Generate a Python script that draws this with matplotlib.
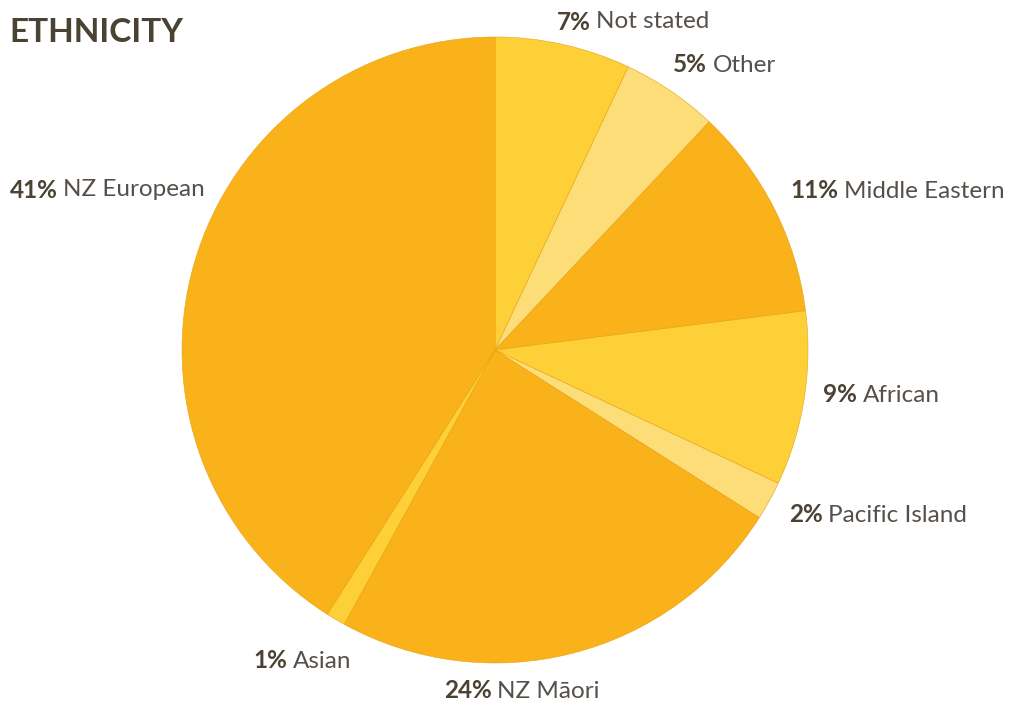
import matplotlib
matplotlib.use('Agg')
import matplotlib.pyplot as plt

# データ
categories = ['Not stated', 'Other', 'Middle Eastern', 'African',
              'Pacific Island', 'NZ Māori', 'Asian', 'NZ European']
percent = [7, 5, 11, 9, 2, 24, 1, 41]

DARK = '#F9B21A'
MID = '#FDD037'
LIGHT = '#FDDD77'
slice_colors = [MID, LIGHT, DARK, MID, LIGHT, DARK, MID, DARK]
TEXT = '#4A4233'

# ラベル位置 (ピクセル, 左端 / 中心y)
label_pos = {
    'Not stated': (557, 22),
    'Other': (673, 65),
    'Middle Eastern': (790, 191),
    'African': (823, 395),
    'Pacific Island': (789, 515),
    'NZ Māori': (444, 691),
    'Asian': (253, 661),
    'NZ European': (10, 190),
}

def main():
    plt.rcParams['font.family'] = ['Lato', 'DejaVu Sans']
    W, H = 1014, 704
    fig = plt.figure(figsize=(W / 100, H / 100), dpi=100)
    ax = fig.add_axes([0, 0, 1, 1])

    ax.pie(percent, colors=slice_colors, startangle=90, counterclock=False,
           center=(495, H - 350), radius=313,
           wedgeprops=dict(linewidth=0.4, edgecolor='#E8A010'))

    ax.set_xlim(0, W)
    ax.set_ylim(0, H)
    ax.set_aspect('equal')
    ax.axis('off')

    # タイトル
    ax.text(9, H - 33, 'ETHNICITY', fontsize=24, fontweight='bold',
            color=TEXT, va='center', ha='left')

    # ラベル
    for cat, p in zip(categories, percent):
        x, y = label_pos[cat]
        t = ax.text(x, H - y, f'{p}%', fontsize=17.5, fontweight='bold',
                    color=TEXT, va='center', ha='left')
        ax.annotate(cat, xy=(1, 0.5), xycoords=t, xytext=(4, 0),
                    textcoords='offset points', fontsize=17.5, color='#57504A',
                    va='center', ha='left')

    plt.savefig('out.png', dpi=100, facecolor='white')

if __name__ == '__main__':
    main()
